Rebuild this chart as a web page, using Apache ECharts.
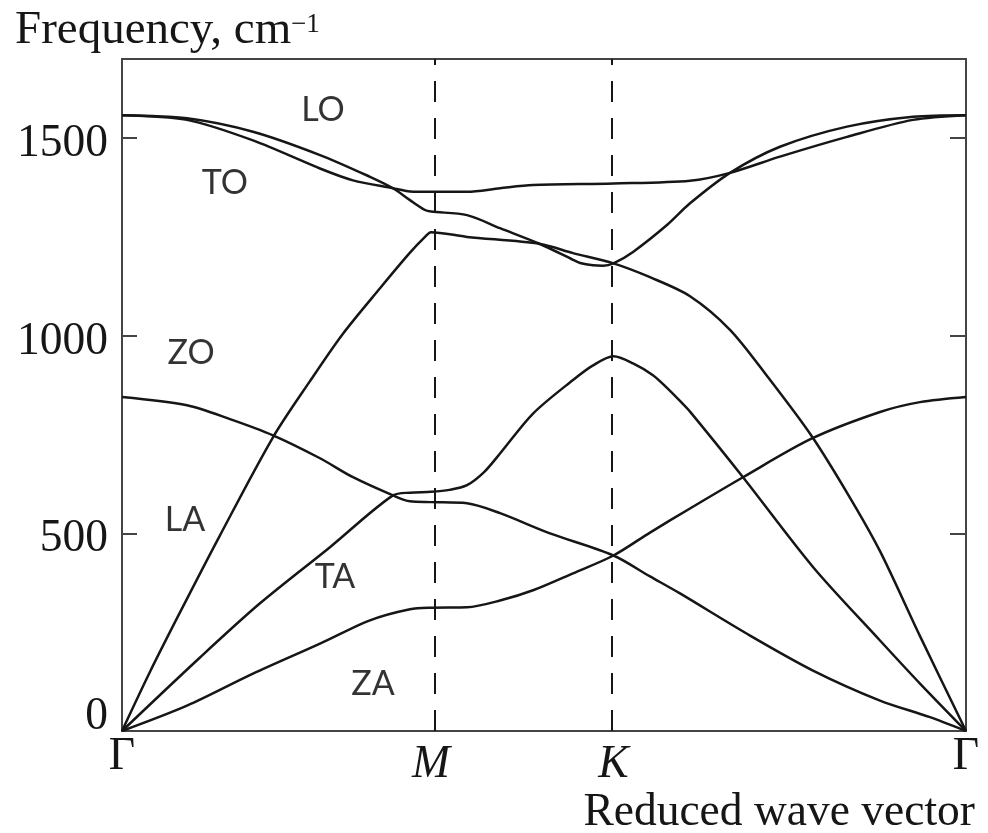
<!DOCTYPE html>
<html>
<head>
<meta charset="utf-8">
<title>Graphene phonon dispersion</title>
<script src="https://cdn.jsdelivr.net/npm/echarts@6/dist/echarts.min.js"></script>
<style>
  html, body { margin: 0; padding: 0; background: #fff; }
  #chart { width: 988px; height: 833px; }
</style>
</head>
<body>
<div id="chart"></div>
<script>
// High-symmetry points along the path Γ–M–K–Γ (reduced wave vector, path fraction)
const pathPoints = [0, 0.366, 0.5823, 1];
const pathLabels = ['Γ', 'M', 'K', 'Γ'];

// Frequency ticks, cm^-1
const freqTicks = [0, 500, 1000, 1500];

// Phonon branches: [path fraction, frequency cm^-1]
const branchLO = [
  [0, 1558], [0.077, 1550], [0.1552, 1516], [0.2346, 1457], [0.2938, 1402],
  [0.3211, 1373], [0.3412, 1343], [0.3590, 1318], [0.3661, 1314],
  [0.4088, 1305], [0.4479, 1272], [0.4953, 1232], [0.5344, 1192],
  [0.5427, 1184], [0.5581, 1178], [0.5700, 1177], [0.5823, 1183],
  [0.6055, 1212], [0.6457, 1280], [0.6730, 1335], [0.7204, 1412],
  [0.7796, 1478], [0.8590, 1529], [0.9372, 1554], [1, 1558]
];
const branchTO = [
  [0, 1558], [0.077, 1546], [0.1552, 1494], [0.2346, 1423], [0.2737, 1393],
  [0.3211, 1373], [0.3412, 1365], [0.3661, 1364], [0.4088, 1364],
  [0.4479, 1373], [0.4870, 1381], [0.5823, 1385], [0.6730, 1392],
  [0.7204, 1412], [0.7796, 1453], [0.8590, 1503], [0.9372, 1546], [1, 1558]
];
const branchLA = [
  [0, 0], [0.0332, 150], [0.0687, 300], [0.1161, 495], [0.1789, 743],
  [0.2227, 885], [0.2618, 1005], [0.3057, 1120], [0.3412, 1210],
  [0.3590, 1250], [0.3661, 1262], [0.4088, 1250], [0.4953, 1232],
  [0.5344, 1209], [0.5823, 1183], [0.6256, 1148], [0.6730, 1100],
  [0.7204, 1015], [0.7654, 895], [0.8175, 745], [0.8626, 590],
  [0.8981, 455], [0.9455, 240], [1, 0]
];
const branchTA = [
  [0, 0], [0.0924, 186], [0.1635, 323], [0.2464, 465], [0.3211, 596],
  [0.3412, 603], [0.3661, 605], [0.3880, 610], [0.4088, 622],
  [0.4290, 655], [0.4479, 702], [0.4870, 803], [0.5344, 888],
  [0.5581, 925], [0.5823, 948], [0.6055, 930], [0.6291, 900],
  [0.6457, 868], [0.6611, 835], [0.6730, 808], [0.7358, 642],
  [0.8187, 415], [0.8981, 229], [0.9455, 120], [1, 0]
];
const branchZO = [
  [0, 845], [0.077, 824], [0.1280, 789], [0.1789, 748], [0.2346, 690],
  [0.2737, 642], [0.3211, 596], [0.3412, 581], [0.3661, 579],
  [0.4088, 576], [0.4479, 551], [0.5071, 500], [0.5823, 444],
  [0.6256, 391], [0.6611, 348], [0.7405, 246], [0.8187, 153],
  [0.8981, 77], [0.9573, 35], [1, 0]
];
const branchZA = [
  [0, 0], [0.077, 64], [0.1552, 145], [0.2346, 221], [0.2938, 280],
  [0.3412, 308], [0.3661, 312], [0.4088, 313], [0.4479, 330],
  [0.4870, 356], [0.5344, 399], [0.5823, 444], [0.6256, 502],
  [0.6730, 563], [0.7358, 642], [0.8175, 740], [0.8981, 807],
  [0.9455, 832], [1, 845]
];

// Branch names and where each one is labelled [path fraction, frequency]
const modeNames = ['LO', 'TO', 'ZO', 'LA', 'TA', 'ZA'];
const modeAnchors = [
  [0.2382, 1571], [0.1220, 1386], [0.0818, 956],
  [0.0746, 533], [0.2524, 389], [0.2974, 118]
];

const serif = '"Liberation Serif", "Times New Roman", serif';
const ink = '#161616';
const frame = '#444';

const chart = echarts.init(document.getElementById('chart'), null, { renderer: 'canvas' });

function branchSeries(name, data) {
  return {
    name: name,
    type: 'line',
    data: data,
    showSymbol: false,
    smooth: 0.3,
    lineStyle: { color: ink, width: 2.5 },
    silent: true,
    z: 3
  };
}

function frameAxisLine() {
  return { show: true, onZero: false, lineStyle: { color: frame, width: 2 } };
}

const option = {
  animation: false,
  backgroundColor: '#fff',
  grid: { left: 122, top: 59, width: 844, height: 672 },
  xAxis: [
    {
      type: 'value', min: 0, max: 1, position: 'bottom',
      axisLine: frameAxisLine(),
      axisTick: { show: false },
      splitLine: { show: false },
      axisLabel: {
        customValues: pathPoints,
        margin: 3,
        fontFamily: serif, fontSize: 45.5, color: ink,
        formatter: function (v) {
          const i = pathPoints.findIndex(function (p) { return Math.abs(p - v) < 1e-6; });
          if (i < 0) return '';
          return (i === 1 || i === 2) ? '{it|' + pathLabels[i] + '}' : '{up|' + pathLabels[i] + '}';
        },
        rich: {
          up: { fontFamily: serif, fontSize: 45.5, color: ink },
          it: { fontFamily: serif, fontSize: 45.5, fontStyle: 'italic', color: ink, padding: [8, 0, 0, 0] }
        }
      }
    },
    {
      type: 'value', min: 0, max: 1, position: 'top',
      axisLine: frameAxisLine(),
      axisTick: { show: false }, axisLabel: { show: false }, splitLine: { show: false }
    }
  ],
  yAxis: [
    {
      type: 'value', min: 0, max: 1700, position: 'left',
      axisLine: frameAxisLine(),
      axisTick: { show: true, inside: true, length: 15, customValues: freqTicks,
                  lineStyle: { color: frame, width: 2 } },
      splitLine: { show: false },
      axisLabel: {
        customValues: freqTicks,
        margin: 14,
        fontFamily: serif, fontSize: 45.5, color: ink,
        formatter: function (v) { return v === 0 ? '{zero|0}' : '{num|' + v + '}'; },
        rich: {
          zero: { fontFamily: serif, fontSize: 45.5, color: ink, padding: [0, 0, 28, 0] },
          num: { fontFamily: serif, fontSize: 45.5, color: ink, padding: [12, 0, 0, 0] }
        }
      }
    },
    {
      type: 'value', min: 0, max: 1700, position: 'right',
      axisLine: frameAxisLine(),
      axisTick: { show: true, inside: true, length: 16, customValues: freqTicks,
                  lineStyle: { color: frame, width: 2 } },
      axisLabel: { show: false }, splitLine: { show: false }
    }
  ],
  series: [
    Object.assign(branchSeries('LO', branchLO), {
      markLine: {
        silent: true,
        symbol: 'none',
        label: { show: false },
        lineStyle: { color: ink, width: 2, type: [21, 16] },
        data: [{ xAxis: pathPoints[1] }, { xAxis: pathPoints[2] }]
      }
    }),
    branchSeries('TO', branchTO),
    branchSeries('LA', branchLA),
    branchSeries('TA', branchTA),
    branchSeries('ZO', branchZO),
    branchSeries('ZA', branchZA),
    {
      name: 'mode labels',
      type: 'scatter',
      data: modeAnchors.map(function (p, i) { return { value: p, name: modeNames[i] }; }),
      symbolSize: 0,
      silent: true,
      label: {
        show: true, position: 'inside',
        formatter: '{b}',
        fontFamily: 'Lato, "Open Sans", sans-serif', fontSize: 34, color: '#000'
      },
      z: 4
    }
  ],
  graphic: [
    {
      type: 'text',
      style: { x: 15, y: 31, text: 'Frequency, cm', font: '47px ' + serif,
               fill: ink, textAlign: 'left', textVerticalAlign: 'middle' }
    },
    {
      type: 'text',
      style: { x: 291, y: 25, text: '−1', font: '27px ' + serif,
               fill: ink, textAlign: 'left', textVerticalAlign: 'middle' }
    },
    {
      type: 'text',
      style: { x: 975, y: 813, text: 'Reduced wave vector', font: '45.5px ' + serif,
               fill: ink, textAlign: 'right', textVerticalAlign: 'middle' }
    }
  ]
};

chart.setOption(option);
</script>
</body>
</html>
